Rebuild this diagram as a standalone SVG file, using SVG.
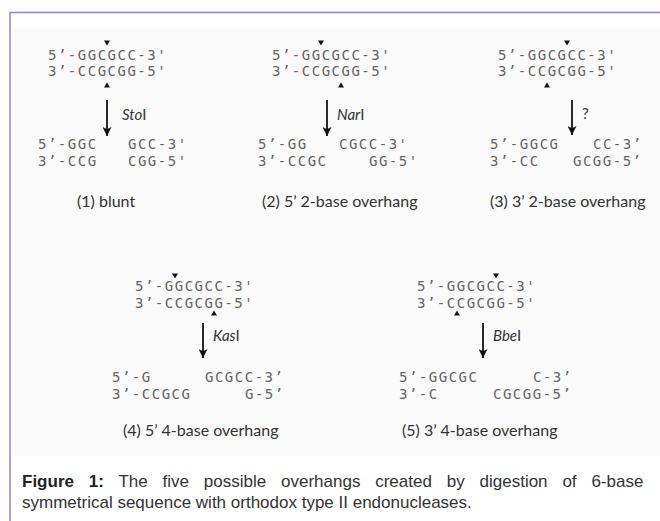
<svg xmlns="http://www.w3.org/2000/svg" width="660" height="521" viewBox="0 0 660 521">
<style>
.seq{font-family:"DejaVu Sans Mono","Liberation Mono",monospace;font-size:14px;fill:#656565;letter-spacing:1.5px}
.lbl{font-family:Lato,"Open Sans",sans-serif;font-size:16px;fill:#333}
.enz{font-family:Lato,"Open Sans",sans-serif;font-size:15px;fill:#333}
.it{font-style:italic}
.cut{fill:#111}
.arr{stroke:#111;stroke-width:1.8;fill:none;marker-end:url(#ah)}
.cap{font-family:"Liberation Sans",Arial,sans-serif;font-size:17px;fill:#333}
.frame{stroke:#9b7fc8;stroke-width:1.5;fill:none}
</style>
<defs>
<marker id="ah" markerUnits="userSpaceOnUse" viewBox="0 0 10 10" refX="10" refY="5" markerWidth="11" markerHeight="9" orient="auto">
<path d="M0,0 L10,5 L0,10 L2.5,5 z" fill="#111"/>
</marker>
<path id="tdn" d="M-3,-2.5 L3,-2.5 L0,2.5 z"/>
<path id="tup" d="M-3,2.5 L3,2.5 L0,-2.5 z"/>
</defs>
<rect x="0" y="0" width="660" height="521" fill="#fff"/>
<rect x="14" y="28" width="646" height="428" fill="#fafafa"/>
<path class="frame" d="M10,521 L10,12.5 L660,12.5"/>

<g id="panel1">
<text class="seq" x="48" y="60">5’-GGCGCC-3'</text>
<text class="seq" x="48" y="76">3’-CCGCGG-5'</text>
<use href="#tdn" class="cut" x="107" y="43"/>
<use href="#tup" class="cut" x="107" y="85"/>
<text class="seq" x="38" y="149">5’-GGC</text>
<text class="seq" x="128" y="149">GCC-3'</text>
<text class="seq" x="38" y="166">3’-CCG</text>
<text class="seq" x="128" y="166">CGG-5'</text>
<text class="lbl" x="77" y="207">(1) blunt</text>
</g>

<g id="panel2">
<text class="seq" x="272" y="60">5’-GGCGCC-3'</text>
<text class="seq" x="272" y="76">3’-CCGCGG-5'</text>
<use href="#tdn" class="cut" x="321" y="43"/>
<use href="#tup" class="cut" x="341" y="85"/>
<text class="seq" x="258" y="149">5’-GG</text>
<text class="seq" x="339" y="149">CGCC-3'</text>
<text class="seq" x="258" y="166">3’-CCGC</text>
<text class="seq" x="369" y="166">GG-5'</text>
<text class="lbl" x="262" y="207">(2) 5’ 2-base overhang</text>
</g>

<g id="panel3">
<text class="seq" x="498" y="60">5’-GGCGCC-3'</text>
<text class="seq" x="498" y="76">3’-CCGCGG-5'</text>
<use href="#tdn" class="cut" x="567" y="43"/>
<use href="#tup" class="cut" x="547" y="85"/>
<text class="seq" x="490" y="149">5’-GGCG</text>
<text class="seq" x="593" y="149">CC-3’</text>
<text class="seq" x="490" y="166">3’-CC</text>
<text class="seq" x="573" y="166">GCGG-5’</text>
<text class="lbl" x="490" y="207">(3) 3’ 2-base overhang</text>
</g>

<g id="panel4">
<text class="seq" x="135" y="291">5’-GGCGCC-3'</text>
<text class="seq" x="135" y="308">3’-CCGCGG-5'</text>
<use href="#tdn" class="cut" x="175" y="276"/>
<use href="#tup" class="cut" x="214" y="313"/>
<text class="seq" x="112" y="382">5’-G</text>
<text class="seq" x="205" y="382">GCGCC-3’</text>
<text class="seq" x="112" y="399">3’-CCGCG</text>
<text class="seq" x="245" y="399">G-5’</text>
<text class="lbl" x="123" y="436">(4) 5’ 4-base overhang</text>
</g>

<g id="panel5">
<text class="seq" x="417" y="291">5’-GGCGCC-3'</text>
<text class="seq" x="417" y="308">3’-CCGCGG-5'</text>
<use href="#tdn" class="cut" x="496" y="276"/>
<use href="#tup" class="cut" x="457" y="313"/>
<text class="seq" x="399" y="382">5’-GGCGC</text>
<text class="seq" x="533" y="382">C-3’</text>
<text class="seq" x="399" y="399">3’-C</text>
<text class="seq" x="493" y="399">CGCGG-5’</text>
<text class="lbl" x="402" y="436">(5) 3’ 4-base overhang</text>
</g>

<g id="connectors">
<line class="arr" x1="107" y1="100" x2="107" y2="136"/>
<text class="enz" x="122" y="120"><tspan class="it">Sto</tspan>I</text>
<line class="arr" x1="327" y1="100" x2="327" y2="136"/>
<text class="enz" x="337" y="120"><tspan class="it">Nar</tspan>I</text>
<line class="arr" x1="572" y1="100" x2="572" y2="135"/>
<text class="enz" x="582" y="119">?</text>
<line class="arr" x1="203" y1="323" x2="203" y2="358"/>
<text class="enz" x="213" y="341"><tspan class="it">Kas</tspan>I</text>
<line class="arr" x1="483" y1="323" x2="483" y2="358"/>
<text class="enz" x="493" y="341"><tspan class="it">Bbe</tspan>I</text>
</g>

<g id="caption">
<text class="cap" x="22" y="487" word-spacing="10.1"><tspan font-weight="bold" fill="#222">Figure 1:</tspan> The five possible overhangs created by digestion of 6-base</text>
<text class="cap" x="22" y="508">symmetrical sequence with orthodox type II endonucleases.</text>
</g>
</svg>
